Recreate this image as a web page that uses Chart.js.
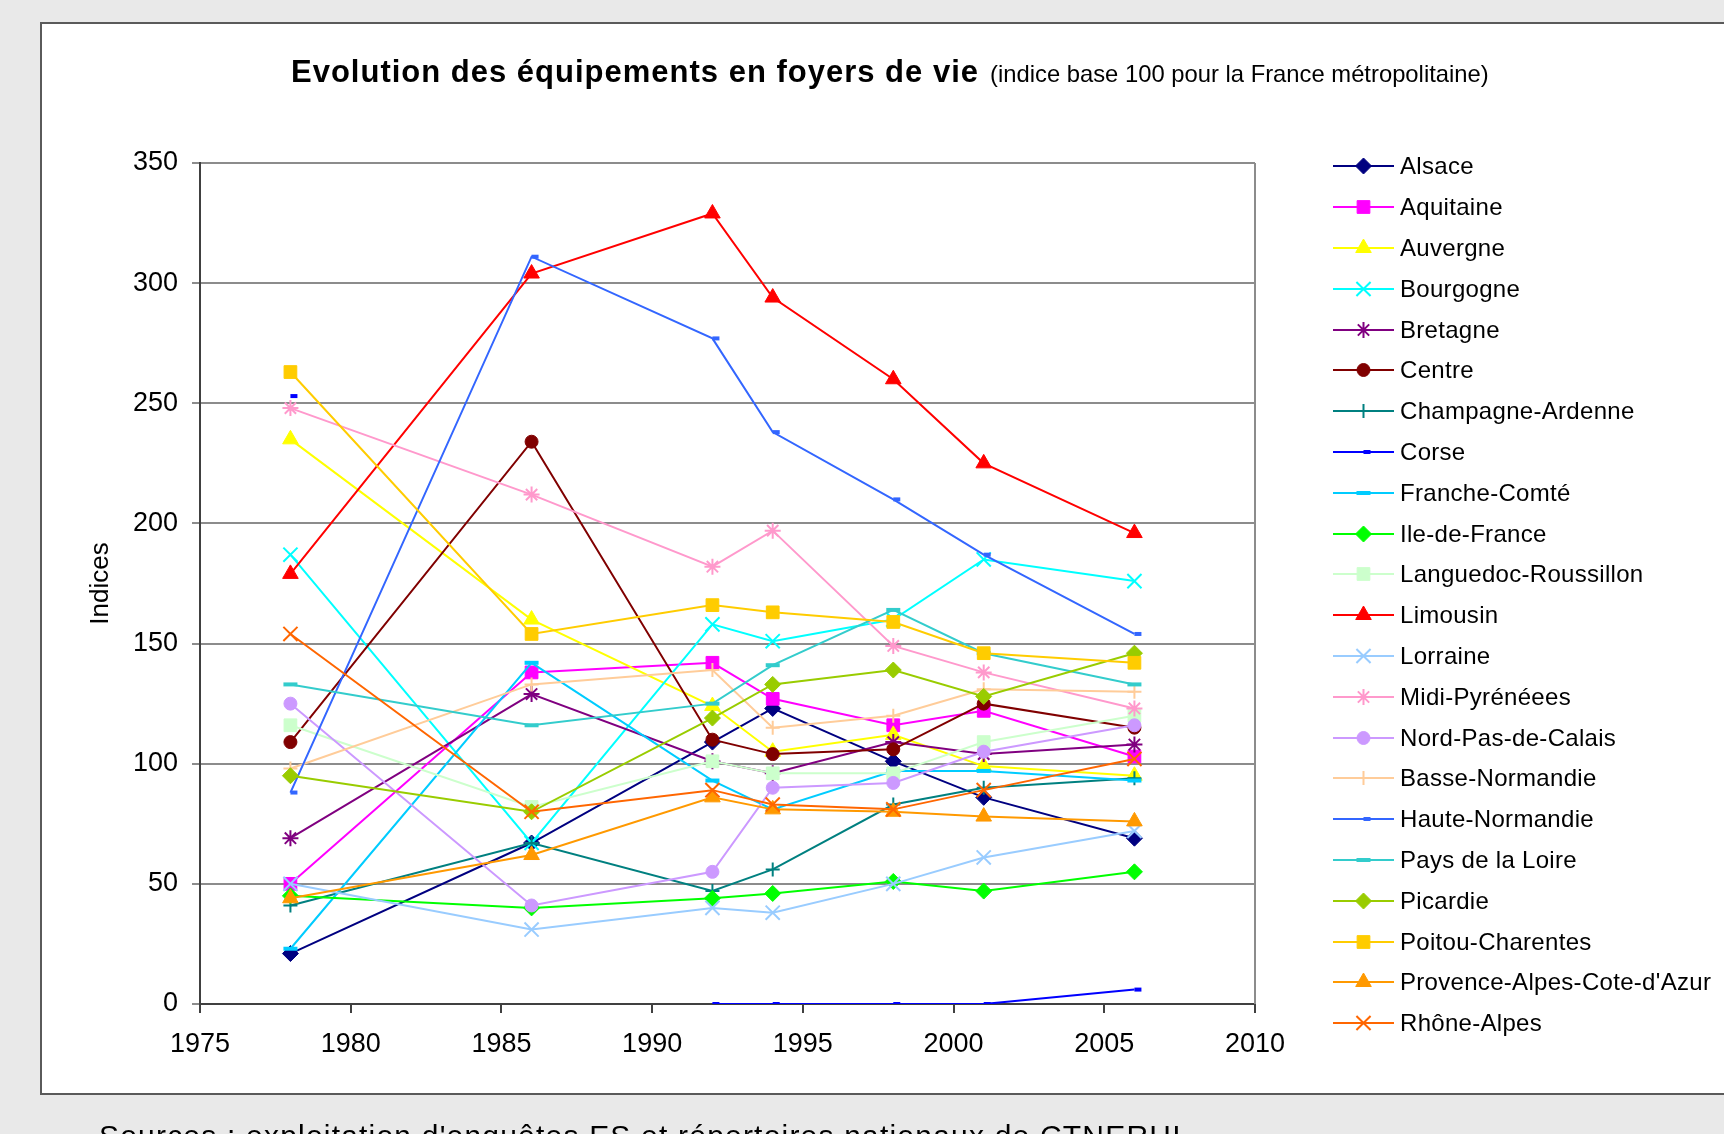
<!DOCTYPE html>
<html lang="fr">
<head>
<meta charset="utf-8">
<title>Evolution des équipements en foyers de vie</title>
<script src="https://cdn.jsdelivr.net/npm/chart.js"></script>
<style>
  html, body { margin: 0; padding: 0; }
  body { width: 1724px; height: 1134px; overflow: hidden; background: #e9e9e9; position: relative;
         font-family: "Liberation Sans", Arial, sans-serif; color: #000; }
  #panel { position: absolute; left: 40px; top: 22px; width: 1700px; height: 1069px; background: #fff;
           border: 2px solid #5a5a5a; border-right: none; }
  #chart { position: absolute; left: 0; top: 0; }
  #title { position: absolute; left: 291px; top: 54px; line-height: 36px; white-space: nowrap; }
  #title b { font-size: 31px; letter-spacing: 1px; }
  #title span { font-size: 23.8px; margin-left: 11px; }
  #legend { position: absolute; left: 1333px; top: 146px; }
  .item { height: 40.8px; display: flex; align-items: center; }
  .item canvas { width: 61px; height: 20px; margin-right: 6px; }
  .item span { font-size: 24px; letter-spacing: 0.3px; white-space: nowrap; }
  #source { position: absolute; left: 99px; top: 1121px; font-size: 30px; line-height: 30px;
            letter-spacing: 1.2px; white-space: nowrap; }
</style>
</head>
<body>
<div id="panel"></div>
<canvas id="chart" width="1724" height="1134"></canvas>
<div id="title"><b>Evolution des équipements en foyers de vie</b><span>(indice base 100 pour la France métropolitaine)</span></div>
<div id="legend"></div>
<div id="source">Sources : exploitation d'enquêtes ES et répertoires nationaux de CTNERHI</div>
<script>
// années d'enquête
const years = [1978, 1986, 1992, 1994, 1998, 2001, 2006];

// indices par région (base 100 France métropolitaine)
const alsace         = [21, 67, 109, 123, 101, 86, 69];
const aquitaine      = [50, 138, 142, 127, 116, 122, 103];
const auvergne       = [235, 160, 124, 105, 112, 99, 95];
const bourgogne      = [187, 67, 158, 151, 160, 185, 176];
const bretagne       = [69, 129, 101, 96, 109, 104, 108];
const centre         = [109, 234, 110, 104, 106, 125, 115];
const champagne      = [41, 67, 47, 56, 83, 90, 94];
const corse          = [253, null, 0, 0, 0, 0, 6];
const francheComte   = [23, 142, 93, 81, 97, 97, 93];
const ileDeFrance    = [45, 40, 44, 46, 51, 47, 55];
const languedoc      = [116, 82, 101, 96, 96, 109, 120];
const limousin       = [179, 304, 329, 294, 260, 225, 196];
const lorraine       = [50, 31, 40, 38, 50, 61, 72];
const midiPyrenees   = [248, 212, 182, 197, 149, 138, 123];
const nordPas        = [125, 41, 55, 90, 92, 105, 116];
const basseNormandie = [98, 133, 139, 115, 120, 131, 130];
const hauteNormandie = [88, 311, 277, 238, 210, 187, 154];
const paysLoire      = [133, 116, 125, 141, 164, 146, 133];
const picardie       = [95, 80, 119, 133, 139, 128, 146];
const poitou         = [263, 154, 166, 163, 159, 146, 142];
const provence       = [44, 62, 86, 81, 80, 78, 76];
const rhoneAlpes     = [154, 80, 89, 83, 81, 89, 102];

const regions = ['Alsace', 'Aquitaine', 'Auvergne', 'Bourgogne', 'Bretagne', 'Centre',
  'Champagne-Ardenne', 'Corse', 'Franche-Comté', 'Ile-de-France', 'Languedoc-Roussillon',
  'Limousin', 'Lorraine', 'Midi-Pyrénéees', 'Nord-Pas-de-Calais', 'Basse-Normandie',
  'Haute-Normandie', 'Pays de la Loire', 'Picardie', 'Poitou-Charentes',
  "Provence-Alpes-Cote-d'Azur", 'Rhône-Alpes'];

const values = [alsace, aquitaine, auvergne, bourgogne, bretagne, centre, champagne, corse,
  francheComte, ileDeFrance, languedoc, limousin, lorraine, midiPyrenees, nordPas,
  basseNormandie, hauteNormandie, paysLoire, picardie, poitou, provence, rhoneAlpes];

// styles façon Excel
const colors = ['#000080', '#FF00FF', '#FFFF00', '#00FFFF', '#800080', '#800000', '#008080',
  '#0000FF', '#00CCFF', '#00FF00', '#CCFFCC', '#FF0000', '#99CCFF', '#FF99CC', '#CC99FF',
  '#FFCC99', '#3366FF', '#33CCCC', '#99CC00', '#FFCC00', '#FF9900', '#FF6600'];

// [pointStyle, radius, borderWidth]
const markers = [
  ['rectRot', 8, 1], ['rect', 9, 1], ['triangle', 9, 1], ['crossRot', 10, 2], ['star', 8, 2],
  ['circle', 6.5, 1], ['cross', 7, 2], ['dash', 7, 4], ['line', 7, 4], ['rectRot', 8, 1],
  ['rect', 9, 1], ['triangle', 9, 1], ['crossRot', 10, 2], ['star', 8, 2], ['circle', 6.5, 1],
  ['cross', 7, 2], ['dash', 7, 4], ['line', 7, 4], ['rectRot', 8, 1], ['rect', 9, 1],
  ['triangle', 9, 1], ['crossRot', 10, 2]
];

const FONT = '"Liberation Sans", Arial, sans-serif';

const datasets = regions.map(function (name, i) {
  return {
    label: name,
    data: years.map(function (yr, j) { return { x: yr, y: values[i][j] }; }),
    borderColor: colors[i],
    backgroundColor: colors[i],
    borderWidth: 2,
    pointStyle: markers[i][0],
    pointRadius: markers[i][1],
    pointHoverRadius: markers[i][1],
    pointBorderWidth: markers[i][2],
    pointBackgroundColor: colors[i],
    pointBorderColor: colors[i],
    order: regions.length - i // la dernière série passe au-dessus
  };
});

// bord droit du cadre du graphique
const plotFrame = {
  id: 'plotFrame',
  beforeDatasetsDraw: function (chart) {
    const ctx = chart.ctx, a = chart.chartArea;
    ctx.save();
    ctx.strokeStyle = '#8c8c8c';
    ctx.lineWidth = 2;
    ctx.beginPath();
    ctx.moveTo(a.right, a.top);
    ctx.lineTo(a.right, a.bottom);
    ctx.stroke();
    ctx.restore();
  }
};

const ctx = document.getElementById('chart').getContext('2d');
const chart = new Chart(ctx, {
  type: 'line',
  data: { datasets: datasets },
  options: {
    responsive: false,
    animation: false,
    devicePixelRatio: 1,
    layout: { padding: { top: 163, right: 469, bottom: 70, left: 80 } },
    plugins: {
      legend: { display: false },
      tooltip: { enabled: false }
    },
    scales: {
      x: {
        type: 'linear',
        min: 1975,
        max: 2010,
        ticks: {
          stepSize: 5,
          padding: 15,
          maxRotation: 0,
          color: '#000',
          font: { family: FONT, size: 27 },
          callback: function (v) { return String(v); }
        },
        grid: { drawOnChartArea: false, tickLength: 9, color: '#404040', lineWidth: 2 },
        border: { color: '#404040', width: 2 },
        afterFit: function (s) { s.height = 60; }
      },
      y: {
        min: 0,
        max: 350,
        ticks: { stepSize: 50, padding: 14, color: '#000', font: { family: FONT, size: 27 } },
        grid: { color: '#8c8c8c', lineWidth: 2, tickLength: 8 },
        border: { color: '#404040', width: 2 },
        title: {
          display: true,
          text: 'Indices',
          color: '#000',
          font: { family: FONT, size: 26 },
          padding: { top: 5, bottom: 0 }
        },
        afterFit: function (s) { s.width = 120; }
      }
    }
  },
  plugins: [plotFrame]
});

// légende à droite : trait + marqueur, comme dans Excel
const legendBox = document.getElementById('legend');
chart.data.datasets.forEach(function (ds) {
  const row = document.createElement('div');
  row.className = 'item';
  const icon = document.createElement('canvas');
  icon.width = 61;
  icon.height = 20;
  const g = icon.getContext('2d');
  g.strokeStyle = ds.borderColor;
  g.lineWidth = 2;
  g.beginPath();
  g.moveTo(0, 10);
  g.lineTo(61, 10);
  g.stroke();
  g.fillStyle = ds.pointBackgroundColor;
  g.strokeStyle = ds.pointBorderColor;
  g.lineWidth = ds.pointBorderWidth;
  Chart.helpers.drawPoint(g, {
    pointStyle: ds.pointStyle,
    radius: ds.pointRadius,
    rotation: 0,
    borderWidth: ds.pointBorderWidth
  }, 30.5, 10);
  const label = document.createElement('span');
  label.textContent = ds.label;
  row.appendChild(icon);
  row.appendChild(label);
  legendBox.appendChild(row);
});
</script>
</body>
</html>
